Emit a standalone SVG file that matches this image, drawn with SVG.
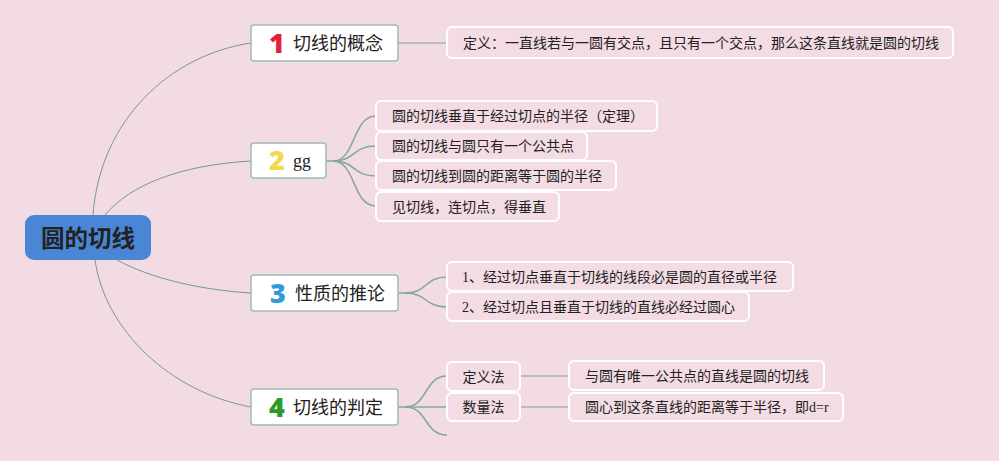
<svg xmlns="http://www.w3.org/2000/svg" width="999" height="461" viewBox="0 0 999 461">
<style>
.bg{fill:#f2dbe2}
.main{fill:#ffffff;stroke:#9dbdb1;stroke-width:1.5}
.sub{fill:#f3dce3;stroke:#ffffff;stroke-width:2}
.t{font-family:"Noto Sans CJK SC","Noto Sans",sans-serif;fill:#222}
.mt{font-size:18px}
.st{font-size:14px}
.num{font-family:"Noto Sans","Noto Sans CJK SC",sans-serif;font-weight:900;font-size:27px}
.serif{font-family:"Liberation Serif","Noto Serif",serif}
.root-c{fill:none;stroke:#759a8f;stroke-width:1}
.c{fill:none;stroke:#84a89b;stroke-width:1.5}
.s{fill:none;stroke:#a3b3ad;stroke-width:1.5}
</style>
<rect class="bg" x="0" y="0" width="999" height="461"/>
<g id="connectors">
<path class="root-c" d="M93,215 C100,120 170,55 251,43"/>
<path class="root-c" d="M105,215 C130,185 180,165 251,161"/>
<path class="root-c" d="M117,260 C150,278 200,290 251,293"/>
<path class="root-c" d="M95,260 C105,330 170,392 251,407"/>
<path class="s" d="M398,43 L447,43"/>
<path class="c" d="M326,161 L333,161 C356,161 352,116 376,116"/>
<path class="c" d="M333,161 C356,161 352,146 376,146"/>
<path class="c" d="M333,161 C356,161 352,176 376,176"/>
<path class="c" d="M333,161 C356,161 352,206 376,206"/>
<path class="c" d="M398,293 L405,293 C428,293 424,277 447,277"/>
<path class="c" d="M405,293 C428,293 424,307 447,307"/>
<path class="c" d="M398,407 L405,407 C428,407 424,376 447,376"/>
<path class="c" d="M405,407 L447,407"/>
<path class="c" d="M405,407 C428,407 424,435 447,435"/>
<path class="s" d="M520,376 L569,376"/>
<path class="s" d="M520,407 L569,407"/>
</g>
<g id="root">
<rect x="25" y="215" width="126" height="45" rx="9" fill="#4a86d6"/>
<text class="t" x="88" y="247" text-anchor="middle" font-size="23.5" font-weight="bold" fill="#000">圆的切线</text>
</g>
<g id="node1">
<rect class="main" x="251" y="25" width="147" height="36" rx="3"/>
<text class="num" x="277" y="53" text-anchor="middle" fill="#df2339">1</text>
<text class="t mt" x="293" y="50">切线的概念</text>
</g>
<g id="node1-def">
<rect class="sub" x="447" y="27" width="506" height="31" rx="5"/>
<text class="t st" x="463" y="47.5">定义：一直线若与一圆有交点，且只有一个交点，那么这条直线就是圆的切线</text>
</g>
<g id="node2">
<rect class="main" x="251" y="143" width="75" height="35" rx="3"/>
<text class="num" x="277" y="170" text-anchor="middle" fill="#f3d84d">2</text>
<text class="t serif" x="293" y="167" font-size="18">gg</text>
</g>
<g id="node2-a">
<rect class="sub" x="376" y="101" width="281" height="30" rx="5"/>
<text class="t st" x="392" y="121">圆的切线垂直于经过切点的半径（定理）</text>
</g>
<g id="node2-b">
<rect class="sub" x="376" y="132" width="211" height="28" rx="5"/>
<text class="t st" x="392" y="151">圆的切线与圆只有一个公共点</text>
</g>
<g id="node2-c">
<rect class="sub" x="376" y="161" width="240" height="29" rx="5"/>
<text class="t st" x="392" y="180.5">圆的切线到圆的距离等于圆的半径</text>
</g>
<g id="node2-d">
<rect class="sub" x="376" y="192" width="183" height="29" rx="5"/>
<text class="t st" x="392" y="211.5">见切线，连切点，得垂直</text>
</g>
<g id="node3">
<rect class="main" x="251" y="275" width="147" height="36" rx="3"/>
<text class="num" x="278" y="303" text-anchor="middle" fill="#2e9bdb">3</text>
<text class="t mt" x="295" y="300">性质的推论</text>
</g>
<g id="node3-a">
<rect class="sub" x="447" y="262" width="346" height="29" rx="5"/>
<text class="t st" x="462" y="281.5"><tspan class="serif">1</tspan>、经过切点垂直于切线的线段必是圆的直径或半径</text>
</g>
<g id="node3-b">
<rect class="sub" x="447" y="292" width="302" height="29" rx="5"/>
<text class="t st" x="462" y="311.5"><tspan class="serif">2</tspan>、经过切点且垂直于切线的直线必经过圆心</text>
</g>
<g id="node4">
<rect class="main" x="251" y="389" width="147" height="36" rx="3"/>
<text class="num" x="277" y="417" text-anchor="middle" fill="#2a9c2e">4</text>
<text class="t mt" x="293" y="414">切线的判定</text>
</g>
<g id="node4-a">
<rect class="sub" x="447" y="362" width="73" height="29" rx="5"/>
<text class="t st" x="483.5" y="381.5" text-anchor="middle">定义法</text>
</g>
<g id="node4-b">
<rect class="sub" x="447" y="393" width="73" height="28" rx="5"/>
<text class="t st" x="483.5" y="412" text-anchor="middle">数量法</text>
</g>
<g id="node4-a1">
<rect class="sub" x="569" y="361" width="255" height="29" rx="5"/>
<text class="t st" x="585" y="380.5">与圆有唯一公共点的直线是圆的切线</text>
</g>
<g id="node4-b1">
<rect class="sub" x="569" y="393" width="274" height="28" rx="5"/>
<text class="t st" x="585" y="412">圆心到这条直线的距离等于半径，即<tspan class="serif">d=r</tspan></text>
</g>
</svg>
